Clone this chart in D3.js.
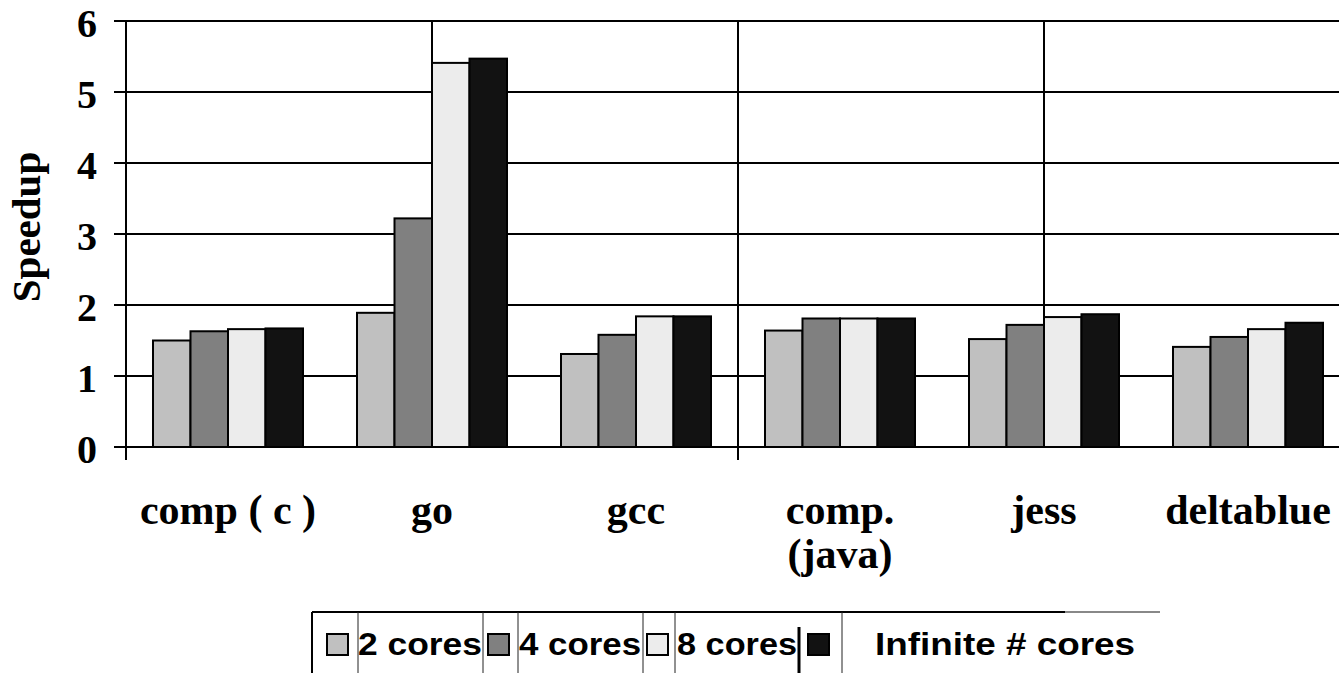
<!DOCTYPE html>
<html>
<head>
<meta charset="utf-8">
<script src="https://cdn.jsdelivr.net/npm/d3@7"></script>
<style>
  html, body { margin: 0; padding: 0; background: #fff; }
  svg { display: block; }
</style>
</head>
<body>
<svg id="chart" width="1339" height="673"></svg>
<script>
// Benchmarks (each label may wrap onto several lines)
const categories = ["comp ( c )", "go", "gcc", "comp. (java)", "jess", "deltablue"];
const categoryLines = [["comp ( c )"], ["go"], ["gcc"], ["comp.", "(java)"], ["jess"], ["deltablue"]];

// Series names and speedup values per benchmark
const seriesNames = ["2 cores", "4 cores", "8 cores", "Infinite # cores"];
const cores2   = [1.50, 1.89, 1.31, 1.64, 1.52, 1.41];
const cores4   = [1.63, 3.22, 1.58, 1.81, 1.72, 1.55];
const cores8   = [1.66, 5.41, 1.84, 1.81, 1.83, 1.66];
const coresInf = [1.67, 5.47, 1.84, 1.81, 1.87, 1.75];
const yTicks = [0, 1, 2, 3, 4, 5, 6];

const seriesValues = [cores2, cores4, cores8, coresInf];
const seriesFill = ["#c0c0c0", "#808080", "#ececec", "#121212"];

const svg = d3.select("#chart");
const serif = "'Liberation Serif', 'Times New Roman', serif";
const sans = "'Liberation Sans', Arial, sans-serif";

// Plot frame
const plotLeft = 126, plotTop = 21, plotBottom = 447;
const bandW = 204;
const x = d3.scaleBand().domain(categories).range([plotLeft, plotLeft + bandW * categories.length]).padding(0);
const y = d3.scaleLinear().domain([0, 6]).range([plotBottom, plotTop]);
const xs = d3.scaleBand().domain(seriesNames).range([27, 177]).padding(0);

// Horizontal gridlines with left tick marks
svg.append("g").selectAll("line").data(yTicks).join("line")
  .attr("x1", plotLeft - 12).attr("x2", 1339)
  .attr("y1", d => y(d)).attr("y2", d => y(d))
  .attr("stroke", "#000").attr("stroke-width", 2);

// Vertical gridlines every one and a half categories
const vGrid = d3.range(1, 4).map(k => plotLeft + k * 1.5 * x.bandwidth());
svg.append("g").selectAll("line").data(vGrid).join("line")
  .attr("x1", d => d).attr("x2", d => d)
  .attr("y1", plotTop).attr("y2", (d, i) => i === 1 ? plotBottom + 13 : plotBottom)
  .attr("stroke", "#000").attr("stroke-width", 2);

// Y axis line
svg.append("line")
  .attr("x1", plotLeft).attr("x2", plotLeft).attr("y1", plotTop).attr("y2", plotBottom + 13)
  .attr("stroke", "#000").attr("stroke-width", 2);

// Bars
const groups = svg.append("g").selectAll("g").data(categories).join("g")
  .attr("transform", c => `translate(${x(c)},0)`);
groups.selectAll("rect")
  .data((c, ci) => seriesNames.map((s, si) => ({ s, si, v: seriesValues[si][ci] })))
  .join("rect")
  .attr("x", d => xs(d.s))
  .attr("width", xs.bandwidth())
  .attr("y", d => y(d.v))
  .attr("height", d => y(0) - y(d.v))
  .attr("fill", d => seriesFill[d.si])
  .attr("stroke", "#000").attr("stroke-width", 2);

// Baseline drawn over bar bottoms
svg.append("line")
  .attr("x1", plotLeft - 12).attr("x2", 1339).attr("y1", plotBottom).attr("y2", plotBottom)
  .attr("stroke", "#000").attr("stroke-width", 2);

// Y tick labels
svg.append("g").selectAll("text").data(yTicks).join("text")
  .attr("x", 97).attr("y", d => y(d) + 16)
  .attr("text-anchor", "end")
  .attr("font-family", serif).attr("font-weight", "bold").attr("font-size", 40)
  .text(d => d);

// Y axis title
svg.append("text")
  .attr("transform", "translate(40,227) rotate(-90)")
  .attr("text-anchor", "middle")
  .attr("font-family", serif).attr("font-weight", "bold").attr("font-size", 41)
  .text("Speedup");

// Category labels
const lab = svg.append("g").selectAll("text").data(categories).join("text")
  .attr("text-anchor", "middle")
  .attr("font-family", serif).attr("font-weight", "bold").attr("font-size", 42);
lab.selectAll("tspan").data((c, i) => categoryLines[i]).join("tspan")
  .attr("x", function() { const c = d3.select(this.parentNode).datum(); return x(c) + x.bandwidth() / 2; })
  .attr("y", (d, i) => 524 + i * 44)
  .text(d => d);

// Legend
const lg = svg.append("g");
lg.append("line").attr("x1", 312).attr("x2", 1065).attr("y1", 612).attr("y2", 612)
  .attr("stroke", "#000").attr("stroke-width", 2);
lg.append("line").attr("x1", 1065).attr("x2", 1160).attr("y1", 612).attr("y2", 612)
  .attr("stroke", "#888").attr("stroke-width", 2);
lg.append("line").attr("x1", 312).attr("x2", 312).attr("y1", 612).attr("y2", 673)
  .attr("stroke", "#000").attr("stroke-width", 2);
lg.selectAll("line.cell").data([358, 483, 518, 643, 675, 842]).join("line")
  .attr("class", "cell")
  .attr("x1", d => d).attr("x2", d => d).attr("y1", 612).attr("y2", 673)
  .attr("stroke", "#222").attr("stroke-width", 1);
lg.append("line").attr("x1", 799).attr("x2", 799).attr("y1", 627).attr("y2", 673)
  .attr("stroke", "#000").attr("stroke-width", 3);

const legendItems = [
  { sx: 327, tx: 358, tw: 124 },
  { sx: 488, tx: 519, tw: 122 },
  { sx: 647, tx: 677, tw: 120 },
  { sx: 808, tx: 875, tw: 260 }
];
lg.selectAll("rect").data(legendItems).join("rect")
  .attr("x", d => d.sx).attr("y", 634).attr("width", 21).attr("height", 21)
  .attr("fill", (d, i) => seriesFill[i])
  .attr("stroke", "#000").attr("stroke-width", 2);
lg.selectAll("text").data(legendItems).join("text")
  .attr("x", d => d.tx).attr("y", 655)
  .attr("font-family", sans).attr("font-weight", "bold").attr("font-size", 32)
  .attr("textLength", d => d.tw).attr("lengthAdjust", "spacingAndGlyphs")
  .text((d, i) => seriesNames[i]);
</script>
</body>
</html>
